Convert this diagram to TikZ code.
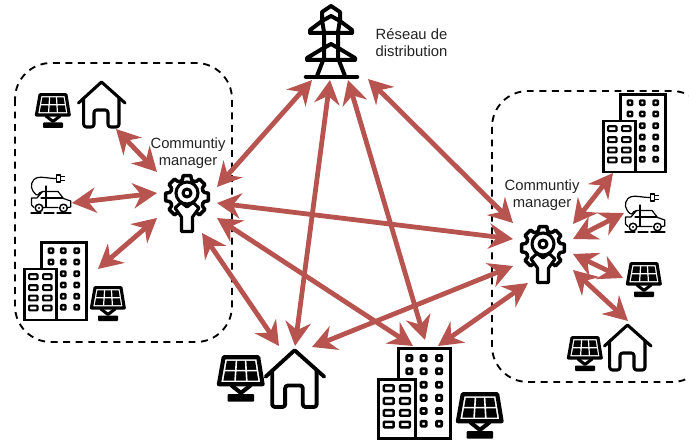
\documentclass[tikz,border=0pt]{standalone}
\usepackage{fontspec}
\setmainfont{Liberation Sans}
\usetikzlibrary{arrows.meta}
\definecolor{linkred}{HTML}{B85450}
\definecolor{labelgrey}{HTML}{222222}
\tikzset{
  x=0.75pt,y=-0.75pt,
  link/.style={draw=linkred,line width=3.6pt,
    arrows={Stealth[length=18pt,width=19pt,inset=6pt]-Stealth[length=18pt,width=19pt,inset=6pt]}},
  zone/.style={draw=black,line width=1.4pt,dash pattern=on 5.2pt off 4.2pt,rounded corners=27pt},
  label/.style={text=labelgrey,align=center,font=\fontsize{11.1pt}{12.6pt}\selectfont,inner sep=0pt},
  pics/panel/.style={code={
    \begin{scope}[scale=#1,line join=round,line cap=round]
      \draw[line width=#1*2.3pt,fill=white] (5,1.7)--(31,1.7)--(34.3,22)--(1.4,22)--cycle;
      \fill[black] (7.4,4.4)--(28.6,4.4)--(31,19.2)--(4.8,19.2)--cycle;
      \draw[white,line width=#1*0.9pt] (6,11.7)--(30,11.7) (14.6,4.4)--(13.6,19.2) (21.5,4.4)--(22.4,19.2);
      \draw[line width=#1*2.3pt] (11,23)--(18,28.5)--(25,23);
      \fill[black,rounded corners=0.6pt] (8,29.5) rectangle (28,35);
    \end{scope}}},
  pics/house/.style={code={
    \begin{scope}[scale=#1,line join=round,line cap=round]
      \draw[line width=#1*2.3pt,fill=white,rounded corners=2pt] (5.7,17)--(5.7,46)--(16,46)--(16,29)--(30,29)--(30,46)--(41,46)--(41,17);
      \draw[line width=#1*2.3pt] (0.5,22)--(23.5,1)--(47,22);
    \end{scope}}},
  pics/building/.style={code={
    \begin{scope}[scale=#1,line join=miter]
      \draw[line width=#1*2pt,fill=white] (17.7,0.7) rectangle (62.7,78);
      \foreach \wy in {8.7,20}{\draw[line width=#1*1.8pt,rounded corners=0.6pt] (24.8,\wy-2.2) rectangle +(4.4,4.4);}
      \foreach \wx in {39.3,52.7}\foreach \wy in {8.7,20,31.7,43,54.3,65.3}{\draw[line width=#1*1.8pt,rounded corners=0.6pt] (\wx-2.2,\wy-2.2) rectangle +(4.4,4.4);}
      \draw[line width=#1*2pt,fill=white] (0.7,27) rectangle (32.7,78);
      \foreach \wx in {9.3,23.3}\foreach \wy in {34.7,45.7,56,66}{\draw[line width=#1*1.6pt,rounded corners=0.6pt] (\wx-4.2,\wy-2.4) rectangle +(8.4,4.8);}
    \end{scope}}},
  pics/car/.style={code={
    \begin{scope}[line width=0.9pt,line join=round,line cap=round]
      \draw[line width=1.1pt] (31.5,7) rectangle (35.5,14);
      \draw (35.5,8.3)--(39.5,8.3) (35.5,12.7)--(39.5,12.7);
      \draw (31.5,10.5) .. controls (23,10.5) and (17,8.5) .. (13,9.5) .. controls (6,11) and (5,19) .. (8,23) .. controls (10,26) and (12,28) .. (13,27) .. controls (14,25) and (15,24) .. (18,23.5);
      \draw (6.5,30)--(6.5,37)--(9,39.5) (18,39.5)--(33,39.5) (43,39.5)--(45.7,39) (45.7,39)--(45.7,33)--(38.5,30.5)--(33,23.5)--(17.5,23.5)--(12,30)--(6.5,30);
      \draw (21,18)--(21,39) (16,30)--(37.5,30);
      \draw[line width=1.1pt] (14,40) circle[radius=3.8] (38.5,40) circle[radius=3.8];
      \fill (14,40) circle[radius=1.2] (38.5,40) circle[radius=1.2];
      \draw (6,45)--(16,45) (19,45)--(29,45) (32,45)--(46,45);
    \end{scope}}},
  pics/manager/.style={code={
    \begin{scope}[line join=round,line cap=round]
      \foreach \ta in {0,45,...,315}{
        \draw[line width=2.6pt] (\ta-15:17.8)--(\ta-10:21.8)--(\ta+10:21.8)--(\ta+15:17.8)--(\ta+22.5:17)--(\ta+30:17.8);
      }
      \draw[line width=2.3pt] (0,-4) circle[radius=11];
      \draw[line width=2.3pt,fill=white] (-5.5,34.5)--(5.5,34.5)--(5.5,20)--(12,11)--(6,5.5)--(0,10)--(-6,5.5)--(-12,11)--(-5.5,20)--cycle;
      \draw[line width=2.3pt] (0,-4) circle[radius=4];
    \end{scope}}},
  pics/pylon/.style={code={
    \begin{scope}[line join=round,line cap=round]
      \draw[line width=3.4pt] (-25,77)--(26,77);
      \draw[line width=3pt] (0,6)--(-9,12)--(-9,20)--(-7,32)--(-7,58)--(-14,76) (0,6)--(9,12)--(9,20)--(7,32)--(7,58)--(14,76);
      \draw[line width=3pt] (-9,21)--(0,16)--(9,21);
      \draw[line width=3pt] (-9,21)--(-21,30)--(-21,33)--(21,33)--(21,30)--(9,21);
      \draw[line width=3pt] (-9,49)--(0,44)--(9,49);
      \draw[line width=3pt] (-9,49)--(-24,58)--(-24,60)--(24,60)--(24,58)--(9,49);
    \end{scope}}}
}
\begin{document}
\begin{tikzpicture}
\useasboundingbox (0,0) rectangle (689,442);
\begin{scope}
  \clip (0,0) rectangle (689,442);
  \draw[zone] (15,63) rectangle (232,342);
  \draw[zone] (492,91) rectangle (708,382);
\end{scope}

% Icons
\pic at (331,0) {pylon};
\pic at (187,197) {manager};
\pic at (543,248) {manager};
\pic at (35,93) {panel=1};
\pic at (78,81) {house=1};
\pic at (25,168) {car};
\pic at (24,242) {building=1};
\pic at (90,286) {panel=1};
\pic at (603,94) {building=1};
\pic at (619,187) {car};
\pic at (626,262) {panel=1};
\pic at (567,336) {panel=1};
\pic at (604,324) {house=1};
\pic at (217,355) {panel=1.33};
\pic at (265,349) {house=1.26};
\pic at (378,348) {building=1.16};
\pic at (456,392) {panel=1.33};

% Labels
\node[label] (gridlabel) at (411.5,43) {Réseau de\\distribution};
\node[label] (mgrLlabel) at (188,153) {Communtiy\\manager};
\node[label] (mgrRlabel) at (542,195) {Communtiy\\manager};

% Ports
\coordinate (gridA) at (312,80);
\coordinate (gridB) at (330,80);
\coordinate (gridC) at (348,80);
\coordinate (gridD) at (368,79);
\coordinate (mgrL-house) at (157,172);
\coordinate (mgrL-car) at (157,193);
\coordinate (mgrL-bld) at (157,218);
\coordinate (mgrL-grid) at (217,187);
\coordinate (mgrL-mgrR) at (217,203);
\coordinate (mgrL-bigbld) at (217,218);
\coordinate (mgrL-bighouse) at (202,233);
\coordinate (mgrR-grid) at (513,223);
\coordinate (mgrR-mgrL) at (513,239);
\coordinate (mgrR-bighouse) at (513,266);
\coordinate (mgrR-bigbld) at (528,283);
\coordinate (mgrR-bld) at (573,224);
\coordinate (mgrR-car) at (573,239);
\coordinate (mgrR-panel) at (573,254);
\coordinate (mgrR-house) at (573,270);
\coordinate (lhouse) at (116,129);
\coordinate (lcar) at (72,203);
\coordinate (lbld) at (98,269);
\coordinate (rbld) at (613,173);
\coordinate (rcar) at (624,213);
\coordinate (rpanel) at (623,278);
\coordinate (rhouse) at (628,321);
\coordinate (bighouseA) at (279,346);
\coordinate (bighouseB) at (295,346);
\coordinate (bighouseC) at (312,347);
\coordinate (bigbldA) at (413,346);
\coordinate (bigbldB) at (425,340);
\coordinate (bigbldC) at (438,346);

% Connectors
\draw[link] (lhouse) -- (mgrL-house);
\draw[link] (lcar) -- (mgrL-car);
\draw[link] (lbld) -- (mgrL-bld);
\draw[link] (rbld) -- (mgrR-bld);
\draw[link] (rcar) -- (mgrR-car);
\draw[link] (rpanel) -- (mgrR-panel);
\draw[link] (rhouse) -- (mgrR-house);
\draw[link] (gridA) -- (mgrL-grid);
\draw[link] (gridB) -- (bighouseB);
\draw[link] (gridC) -- (bigbldB);
\draw[link] (gridD) -- (mgrR-grid);
\draw[link] (mgrL-mgrR) -- (mgrR-mgrL);
\draw[link] (mgrL-bigbld) -- (bigbldA);
\draw[link] (mgrL-bighouse) -- (bighouseA);
\draw[link] (mgrR-bighouse) -- (bighouseC);
\draw[link] (mgrR-bigbld) -- (bigbldC);
\end{tikzpicture}
\end{document}
